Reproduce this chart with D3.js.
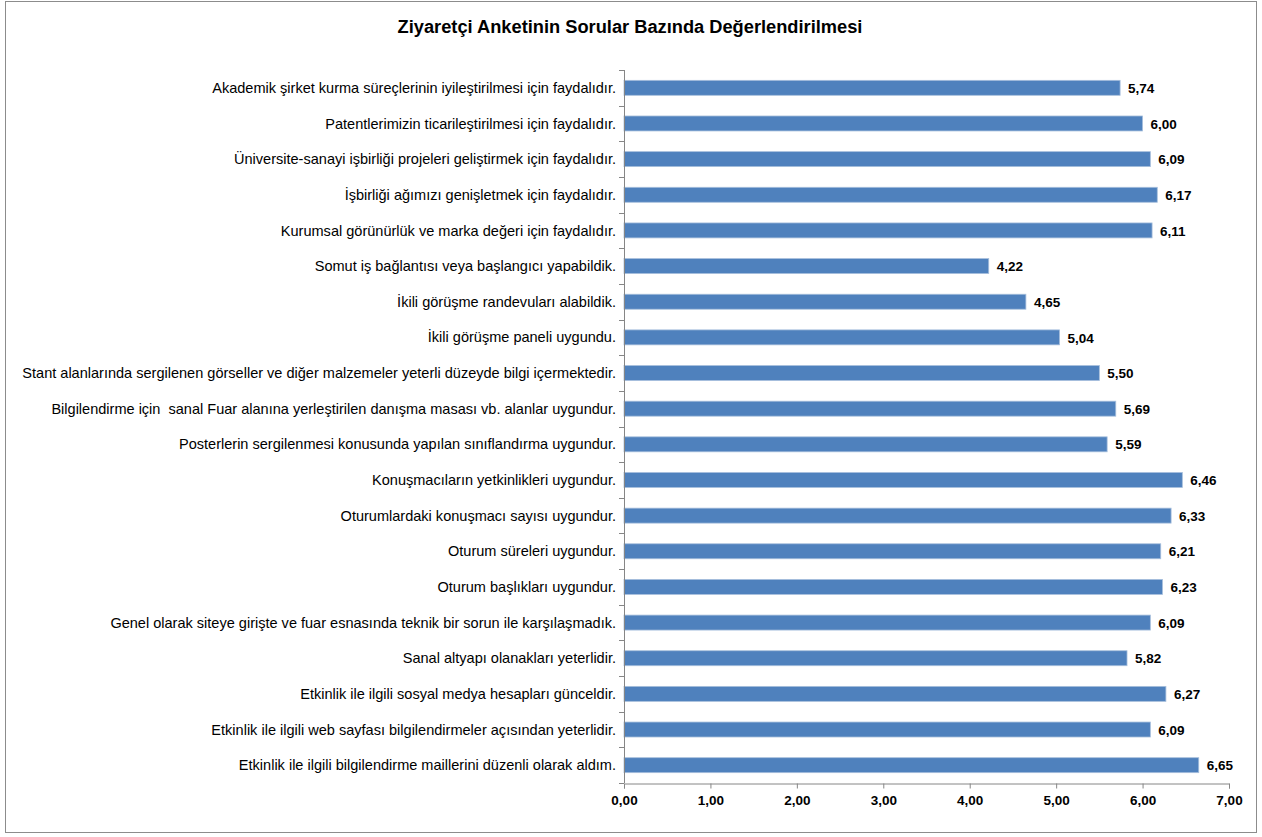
<!DOCTYPE html>
<html>
<head>
<meta charset="utf-8">
<script src="https://cdn.jsdelivr.net/npm/d3@7"></script>
<style>
  body { margin: 0; background: #fff; }
  svg { display: block; }
  text { white-space: pre; }
</style>
</head>
<body>
<div id="chart"></div>
<script>
/* Ziyaretçi anketi – yatay çubuk grafik */

const TITLE = 'Ziyaretçi Anketinin Sorular Bazında Değerlendirilmesi';

const questions = [
  'Akademik şirket kurma süreçlerinin iyileştirilmesi için faydalıdır.',
  'Patentlerimizin ticarileştirilmesi için faydalıdır.',
  'Üniversite-sanayi işbirliği projeleri geliştirmek için faydalıdır.',
  'İşbirliği ağımızı genişletmek için faydalıdır.',
  'Kurumsal görünürlük ve marka değeri için faydalıdır.',
  'Somut iş bağlantısı veya başlangıcı yapabildik.',
  'İkili görüşme randevuları alabildik.',
  'İkili görüşme paneli uygundu.',
  'Stant alanlarında sergilenen görseller ve diğer malzemeler yeterli düzeyde bilgi içermektedir.',
  'Bilgilendirme için  sanal Fuar alanına yerleştirilen danışma masası vb. alanlar uygundur.',
  'Posterlerin sergilenmesi konusunda yapılan sınıflandırma uygundur.',
  'Konuşmacıların yetkinlikleri uygundur.',
  'Oturumlardaki konuşmacı sayısı uygundur.',
  'Oturum süreleri uygundur.',
  'Oturum başlıkları uygundur.',
  'Genel olarak siteye girişte ve fuar esnasında teknik bir sorun ile karşılaşmadık.',
  'Sanal altyapı olanakları yeterlidir.',
  'Etkinlik ile ilgili sosyal medya hesapları günceldir.',
  'Etkinlik ile ilgili web sayfası bilgilendirmeler açısından yeterlidir.',
  'Etkinlik ile ilgili bilgilendirme maillerini düzenli olarak aldım.'
];

const scores = [5.74, 6.00, 6.09, 6.17, 6.11, 4.22, 4.65, 5.04, 5.50, 5.69,
                5.59, 6.46, 6.33, 6.21, 6.23, 6.09, 5.82, 6.27, 6.09, 6.65];

const xTicks = [0, 1, 2, 3, 4, 5, 6, 7];

const W = 1262, H = 837;
const M = { left: 624, right: 1229, top: 70, bottom: 783 };
const FONT = "'Liberation Sans', Arial, sans-serif";
const fmt = v => v.toFixed(2).replace('.', ',');

const svg = d3.select('#chart').append('svg')
  .attr('width', W).attr('height', H);

/* çerçeve */
svg.append('rect')
  .attr('x', 5.5).attr('y', 1.5)
  .attr('width', 1251).attr('height', 831)
  .attr('fill', '#fff')
  .attr('stroke', '#8c8c8c').attr('stroke-width', 1);

const title = svg.append('text')
  .attr('x', 630).attr('y', 33)
  .attr('text-anchor', 'middle')
  .attr('font-family', FONT)
  .attr('font-weight', 'bold')
  .attr('font-size', '16px')
  .attr('fill', '#000')
  .text(TITLE);
const tw = title.node().getComputedTextLength();
title.attr('font-size', (16 * 465 / tw).toFixed(2) + 'px');

const x = d3.scaleLinear().domain([0, 7]).range([M.left, M.right]);
const y = d3.scaleBand().domain(questions).range([M.top, M.bottom]).paddingInner(0.58).paddingOuter(0.29);

/* ── Bars ── */
svg.append('g').selectAll('rect')
  .data(questions)
  .join('rect')
  .attr('x', x(0))
  .attr('y', d => y(d))
  .attr('width', (d, i) => x(scores[i]) - x(0))
  .attr('height', y.bandwidth())
  .attr('fill', '#4f81bd')
  .attr('stroke', '#a7bfdc')
  .attr('stroke-width', 0.8);

/* ── Value labels ── */
svg.append('g').selectAll('text')
  .data(questions)
  .join('text')
  .attr('x', (d, i) => x(scores[i]) + 8)
  .attr('y', d => y(d) + y.bandwidth() / 2)
  .attr('dy', '0.38em')
  .attr('font-family', FONT)
  .attr('font-weight', 'bold')
  .attr('font-size', '13.5px')
  .attr('fill', '#000')
  .text((d, i) => fmt(scores[i]));

/* ── Y axis ── */
const yStep = y.step();
const yAxis = svg.append('g');
yAxis.append('line')
  .attr('x1', M.left + 0.5).attr('x2', M.left + 0.5)
  .attr('y1', M.top).attr('y2', M.bottom)
  .attr('stroke', '#868686');
yAxis.selectAll('line.tk')
  .data(d3.range(questions.length + 1))
  .join('line')
  .attr('class', 'tk')
  .attr('x1', M.left - 5).attr('x2', M.left)
  .attr('y1', i => Math.round(M.top + i * yStep) + 0.5)
  .attr('y2', i => Math.round(M.top + i * yStep) + 0.5)
  .attr('stroke', '#868686');

const labels = yAxis.selectAll('text')
  .data(questions)
  .join('text')
  .attr('x', M.left - 8)
  .attr('y', d => y(d) + y.bandwidth() / 2)
  .attr('dy', '0.35em')
  .attr('text-anchor', 'end')
  .attr('font-family', FONT)
  .attr('font-size', '12px')
  .attr('fill', '#000')
  .text(d => d);

/* fit the longest label to the reference width */
const longest = d3.max(labels.nodes(), n => n.getComputedTextLength());
const fs = 12 * 594 / longest;
labels.attr('font-size', fs.toFixed(2) + 'px');

/* ── X axis ── */
const xAxis = svg.append('g')
  .attr('transform', `translate(0,${M.bottom + 0.5})`)
  .call(d3.axisBottom(x).tickValues(xTicks).tickFormat(fmt).tickSizeOuter(0).tickSize(5));
xAxis.select('.domain').attr('stroke', '#868686');
xAxis.selectAll('.tick line').attr('stroke', '#868686');
xAxis.selectAll('.tick text')
  .attr('y', 12)
  .attr('font-family', FONT)
  .attr('font-weight', 'bold')
  .attr('font-size', '13.5px')
  .attr('fill', '#000');
</script>
</body>
</html>
